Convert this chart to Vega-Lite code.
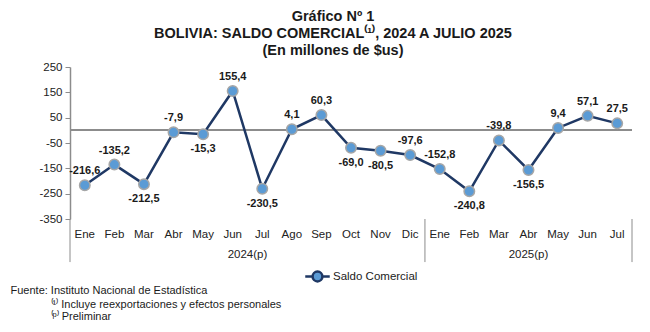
{
  "$schema": "https://vega.github.io/schema/vega-lite/v6.json",
  "autosize": {"type": "none"},
  "padding": {"left": 70, "top": 67, "right": 18, "bottom": 113},
  "width": 562,
  "height": 152,
  "background": "white",
  "title": {
    "text": ["Gráfico Nº 1", "BOLIVIA: SALDO COMERCIAL⁽¹⁾, 2024 A JULIO 2025", "(En millones de $us)"],
    "font": "Liberation Sans",
    "fontSize": 14.5,
    "fontWeight": "bold",
    "color": "#1a1a1a",
    "lineHeight": 17,
    "anchor": "middle",
    "dx": -18,
    "offset": 3
  },
  "data": {
    "values": [
      {"key": "Ene-24", "mes": "Ene", "periodo": "2024(p)", "saldo": -216.6},
      {"key": "Feb-24", "mes": "Feb", "periodo": "2024(p)", "saldo": -135.2},
      {"key": "Mar-24", "mes": "Mar", "periodo": "2024(p)", "saldo": -212.5},
      {"key": "Abr-24", "mes": "Abr", "periodo": "2024(p)", "saldo": -7.9},
      {"key": "May-24", "mes": "May", "periodo": "2024(p)", "saldo": -15.3},
      {"key": "Jun-24", "mes": "Jun", "periodo": "2024(p)", "saldo": 155.4},
      {"key": "Jul-24", "mes": "Jul", "periodo": "2024(p)", "saldo": -230.5},
      {"key": "Ago-24", "mes": "Ago", "periodo": "2024(p)", "saldo": 4.1},
      {"key": "Sep-24", "mes": "Sep", "periodo": "2024(p)", "saldo": 60.3},
      {"key": "Oct-24", "mes": "Oct", "periodo": "2024(p)", "saldo": -69.0},
      {"key": "Nov-24", "mes": "Nov", "periodo": "2024(p)", "saldo": -80.5},
      {"key": "Dic-24", "mes": "Dic", "periodo": "2024(p)", "saldo": -97.6},
      {"key": "Ene-25", "mes": "Ene", "periodo": "2025(p)", "saldo": -152.8},
      {"key": "Feb-25", "mes": "Feb", "periodo": "2025(p)", "saldo": -240.8},
      {"key": "Mar-25", "mes": "Mar", "periodo": "2025(p)", "saldo": -39.8},
      {"key": "Abr-25", "mes": "Abr", "periodo": "2025(p)", "saldo": -156.5},
      {"key": "May-25", "mes": "May", "periodo": "2025(p)", "saldo": 9.4},
      {"key": "Jun-25", "mes": "Jun", "periodo": "2025(p)", "saldo": 57.1},
      {"key": "Jul-25", "mes": "Jul", "periodo": "2025(p)", "saldo": 27.5}
    ]
  },
  "encoding": {
    "x": {
      "field": "key",
      "type": "ordinal",
      "sort": ["Ene-24","Feb-24","Mar-24","Abr-24","May-24","Jun-24","Jul-24","Ago-24","Sep-24","Oct-24","Nov-24","Dic-24","Ene-25","Feb-25","Mar-25","Abr-25","May-25","Jun-25","Jul-25"],
      "scale": {
        "domain": ["Ene-24","Feb-24","Mar-24","Abr-24","May-24","Jun-24","Jul-24","Ago-24","Sep-24","Oct-24","Nov-24","Dic-24","Ene-25","Feb-25","Mar-25","Abr-25","May-25","Jun-25","Jul-25"],
        "paddingInner": 0,
        "paddingOuter": 0
      },
      "axis": {
        "orient": "bottom",
        "domain": false,
        "ticks": false,
        "labelAngle": 0,
        "labelPadding": 9,
        "labelFont": "Liberation Sans",
        "labelFontSize": 11.5,
        "labelColor": "#222222",
        "labelExpr": "split(datum.label, '-')[0]",
        "title": "Fuente: Instituto Nacional de Estadística",
        "titleFont": "Liberation Sans",
        "titleFontSize": 11,
        "titleFontWeight": "normal",
        "titleColor": "#1a1a1a",
        "titleAnchor": "start",
        "titleAlign": "left",
        "titleBaseline": "top",
        "titleX": -60,
        "titleY": 65
      }
    }
  },
  "layer": [
    {
      "mark": {"type": "rule", "color": "#8c8c8c", "strokeWidth": 1.5},
      "encoding": {"x": null, "y": {"datum": 0}}
    },
    {
      "transform": [{"filter": {"field": "key", "oneOf": ["Ene-24", "Ene-25"]}}],
      "mark": {"type": "rule", "color": "#8c8c8c", "strokeWidth": 1},
      "encoding": {
        "x": {"field": "key", "type": "ordinal", "bandPosition": 0,
          "sort": ["Ene-24","Feb-24","Mar-24","Abr-24","May-24","Jun-24","Jul-24","Ago-24","Sep-24","Oct-24","Nov-24","Dic-24","Ene-25","Feb-25","Mar-25","Abr-25","May-25","Jun-25","Jul-25"],
          "scale": {"domain": ["Ene-24","Feb-24","Mar-24","Abr-24","May-24","Jun-24","Jul-24","Ago-24","Sep-24","Oct-24","Nov-24","Dic-24","Ene-25","Feb-25","Mar-25","Abr-25","May-25","Jun-25","Jul-25"]}},
        "y": {"datum": -350},
        "y2": {"datum": -520}
      }
    },
    {
      "transform": [{"filter": {"field": "key", "equal": "Jul-25"}}],
      "mark": {"type": "rule", "color": "#8c8c8c", "strokeWidth": 1},
      "encoding": {
        "x": {"field": "key", "type": "ordinal", "bandPosition": 1,
          "sort": ["Ene-24","Feb-24","Mar-24","Abr-24","May-24","Jun-24","Jul-24","Ago-24","Sep-24","Oct-24","Nov-24","Dic-24","Ene-25","Feb-25","Mar-25","Abr-25","May-25","Jun-25","Jul-25"],
          "scale": {"domain": ["Ene-24","Feb-24","Mar-24","Abr-24","May-24","Jun-24","Jul-24","Ago-24","Sep-24","Oct-24","Nov-24","Dic-24","Ene-25","Feb-25","Mar-25","Abr-25","May-25","Jun-25","Jul-25"]}},
        "y": {"datum": -350},
        "y2": {"datum": -520}
      }
    },
    {
      "transform": [{"filter": {"field": "key", "equal": "Jun-24"}}],
      "mark": {"type": "text", "font": "Liberation Sans", "fontSize": 11.5, "color": "#222222", "baseline": "middle"},
      "encoding": {
        "x": {"field": "key", "type": "ordinal", "bandPosition": 1,
          "sort": ["Ene-24","Feb-24","Mar-24","Abr-24","May-24","Jun-24","Jul-24","Ago-24","Sep-24","Oct-24","Nov-24","Dic-24","Ene-25","Feb-25","Mar-25","Abr-25","May-25","Jun-25","Jul-25"],
          "scale": {"domain": ["Ene-24","Feb-24","Mar-24","Abr-24","May-24","Jun-24","Jul-24","Ago-24","Sep-24","Oct-24","Nov-24","Dic-24","Ene-25","Feb-25","Mar-25","Abr-25","May-25","Jun-25","Jul-25"]}},
        "y": {"datum": -492},
        "text": {"field": "periodo"}
      }
    },
    {
      "transform": [{"filter": {"field": "key", "equal": "Abr-25"}}],
      "mark": {"type": "text", "font": "Liberation Sans", "fontSize": 11.5, "color": "#222222", "baseline": "middle"},
      "encoding": {
        "y": {"datum": -492},
        "text": {"field": "periodo"}
      }
    },
    {
      "mark": {"type": "line", "strokeWidth": 2.5},
      "encoding": {
        "y": {
          "field": "saldo",
          "type": "quantitative",
          "scale": {"domain": [-350, 250], "nice": false, "zero": false},
          "axis": {
            "values": [-350, -250, -150, -50, 50, 150, 250],
            "tickCount": 20,
            "grid": false,
            "labelOverlap": false,
            "domainColor": "#8c8c8c",
            "domainWidth": 1.5,
            "tickColor": "#8c8c8c",
            "tickSize": 5,
            "labelPadding": 3,
            "labelFont": "Liberation Sans",
            "labelFontSize": 11.5,
            "labelColor": "#222222",
            "title": ["⁽¹⁾ Incluye reexportaciones y efectos personales", "⁽ᵖ⁾ Preliminar"],
            "titleAngle": 0,
            "titleFont": "Liberation Sans",
            "titleFontSize": 11,
            "titleFontWeight": "normal",
            "titleColor": "#1a1a1a",
            "titleLineHeight": 12,
            "titleAlign": "left",
            "titleBaseline": "top",
            "titleAnchor": "start",
            "titleX": -20,
            "titleY": 231
          }
        },
        "color": {
          "datum": "Saldo Comercial",
          "type": "nominal",
          "scale": {"range": ["#1f3864"]},
          "legend": {
            "title": null,
            "orient": "none",
            "legendX": 234,
            "legendY": 196,
            "symbolType": "M-1,0H-0.4M0.4,0H1M-0.4,0A0.4,0.4,0,1,1,0.4,0A0.4,0.4,0,1,1,-0.4,0Z",
            "symbolSize": 600,
            "symbolStrokeWidth": 2.5,
            "symbolFillColor": "#5b9bd5",
            "labelFont": "Liberation Sans",
            "labelFontSize": 11.5,
            "labelColor": "#222222",
            "labelOffset": 2
          }
        }
      }
    },
    {
      "mark": {"type": "point", "filled": true, "fill": "#5b9bd5", "stroke": "#a6a6a6", "strokeWidth": 1.5, "size": 110, "opacity": 1},
      "encoding": {"y": {"field": "saldo", "type": "quantitative"}}
    },
    {
      "transform": [{"filter": {"not": {"field": "key", "oneOf": ["Mar-24", "May-24", "Jul-24", "Oct-24", "Nov-24", "Feb-25", "Abr-25"]}}}],
      "mark": {"type": "text", "font": "Liberation Sans", "fontSize": 11, "fontWeight": "bold", "color": "#1a1a1a", "baseline": "middle", "dy": -14},
      "encoding": {
        "y": {"field": "saldo", "type": "quantitative"},
        "text": {"field": "saldo", "type": "quantitative", "format": ".1f"}
      }
    },
    {
      "transform": [{"filter": {"field": "key", "oneOf": ["Mar-24", "May-24", "Jul-24", "Oct-24", "Nov-24", "Feb-25", "Abr-25"]}}],
      "mark": {"type": "text", "font": "Liberation Sans", "fontSize": 11, "fontWeight": "bold", "color": "#1a1a1a", "baseline": "middle", "dy": 15},
      "encoding": {
        "y": {"field": "saldo", "type": "quantitative"},
        "text": {"field": "saldo", "type": "quantitative", "format": ".1f"}
      }
    }
  ],
  "config": {
    "view": {"stroke": null},
    "locale": {
      "number": {"decimal": ",", "thousands": ".", "grouping": [3], "currency": ["$", ""], "minus": "-"}
    }
  }
}
